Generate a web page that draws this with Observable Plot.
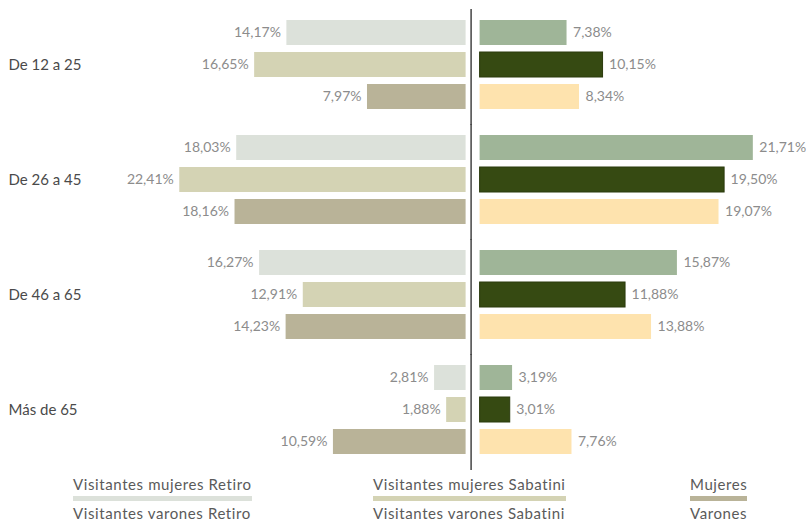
<!DOCTYPE html>
<html>
<head>
<meta charset="utf-8">
<script src="https://cdn.jsdelivr.net/npm/d3@7"></script>
<script src="https://cdn.jsdelivr.net/npm/@observablehq/plot@0.6"></script>
<style>
  html, body { margin: 0; padding: 0; background: #fff; overflow: hidden; }
  body { width: 806px; height: 522px; font-family: Lato, "Open Sans", sans-serif; }
  #chart svg { display: block; }
  .legend { position: relative; height: 52px; }
  .legend span { position: absolute; font-size: 15px; letter-spacing: 0.6px; color: #5a5a5a; line-height: 18px; padding-bottom: 3px; white-space: nowrap; }
</style>
</head>
<body>
<div id="chart"></div>
<div class="legend" id="legend"></div>
<script>
const groups = ["De 12 a 25", "De 26 a 45", "De 46 a 65", "Más de 65"];

// left side (drawn leftwards)
const visMujRetiro   = [14.17, 18.03, 16.27, 2.81];
const visMujSabatini = [16.65, 22.41, 12.91, 1.88];
const mujeres        = [7.97, 18.16, 14.23, 10.59];
// right side
const visVarRetiro   = [7.38, 21.71, 15.87, 3.19];
const visVarSabatini = [10.15, 19.50, 11.88, 3.01];
const varones        = [8.34, 19.07, 13.88, 7.76];

const leftSeries  = [visMujRetiro, visMujSabatini, mujeres];
const rightSeries = [visVarRetiro, visVarSabatini, varones];
const leftColors  = ["#dce1da", "#d4d3b4", "#b9b398"];
const rightColors = ["#9fb598", "#364a12", "#fee3ae"];
const legendLabels = [
  ["Visitantes mujeres Retiro", "Visitantes mujeres Sabatini", "Mujeres"],
  ["Visitantes varones Retiro", "Visitantes varones Sabatini", "Varones"]
];

const left = [], right = [];
groups.forEach((g, i) => {
  leftSeries.forEach((s, r) => left.push({group: g, row: r, value: s[i], color: leftColors[r]}));
  rightSeries.forEach((s, r) => right.push({group: g, row: r, value: s[i], color: rightColors[r]}));
});
const fmt = v => v.toFixed(2).replace(".", ",") + "%";
const labels = groups.map(g => ({group: g, row: 1, label: g}));

const plot = Plot.plot({
  width: 806,
  height: 470,
  marginTop: 15,
  marginBottom: 12.5,
  marginLeft: 0,
  marginRight: 0,
  style: {fontFamily: "Lato, 'Open Sans', sans-serif", background: "#fff"},
  x: {domain: [-36.2, 25.8], axis: null},
  y: {domain: [0, 1, 2], paddingInner: 0.22, paddingOuter: 0.11, axis: null},
  fy: {domain: groups, paddingInner: 0.169, paddingOuter: 0, axis: null},
  marks: [
    Plot.barX(left, {x1: d => -d.value, x2: 0, y: "row", fy: "group", fill: d => d.color, insetRight: 5}),
    Plot.barX(right, {x1: 0, x2: "value", y: "row", fy: "group", fill: d => d.color, insetLeft: 9,
      stroke: d => d.row === 1 ? "#2a3a0c" : "none", strokeWidth: 1}),
    Plot.text(left, {x: d => -d.value, y: "row", fy: "group", text: d => fmt(d.value), textAnchor: "end", dx: -6, fill: "#8c8c8c", fontSize: 14}),
    Plot.text(right, {x: "value", y: "row", fy: "group", text: d => fmt(d.value), textAnchor: "start", dx: 6, fill: "#8c8c8c", fontSize: 14}),
    Plot.text(labels, {y: "row", fy: "group", text: "label", frameAnchor: "left", textAnchor: "start", dx: 8, fill: "#4a4a4a", fontSize: 15, letterSpacing: "0.5px"}),
    Plot.ruleX([0], {stroke: "#444", strokeWidth: 1.5, insetTop: -7, insetBottom: -13})
  ]
});
document.getElementById("chart").appendChild(plot);

// legend
const legend = document.getElementById("legend");
const colX = [73, 373, 690];
const rowY = [5, 34];
const underline = [leftColors, rightColors];
legendLabels.forEach((row, r) => row.forEach((txt, c) => {
  const s = document.createElement("span");
  s.textContent = txt;
  s.style.left = colX[c] + "px";
  s.style.top = rowY[r] + "px";
  s.style.borderBottom = `5px solid ${underline[r][c]}`;
  legend.appendChild(s);
}));
</script>
</body>
</html>
